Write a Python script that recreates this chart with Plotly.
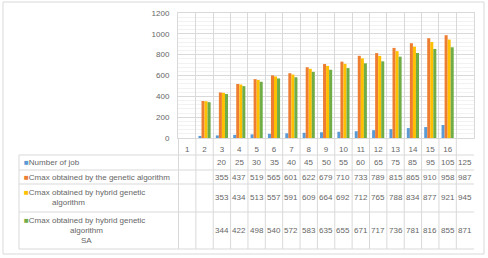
import plotly.graph_objects as go

categories = [str(i) for i in range(1, 17)]
number_of_job = [None, 20, 25, 30, 35, 40, 45, 50, 55, 60, 65, 75, 85, 95, 105, 125]
cmax_ga = [None, 355, 437, 519, 565, 601, 622, 679, 710, 733, 789, 815, 865, 910, 958, 987]
cmax_hga = [None, 353, 434, 513, 557, 591, 609, 664, 692, 712, 765, 788, 834, 877, 921, 945]
cmax_hga_sa = [None, 344, 422, 498, 540, 572, 583, 635, 655, 671, 717, 736, 781, 816, 855, 871]

series_names = ["Number of job", "Cmax obtained by the genetic algorithm",
                "Cmax obtained by hybrid genetic algorithm",
                "Cmax obtained by hybrid genetic algorithm SA"]
series_values = [number_of_job, cmax_ga, cmax_hga, cmax_hga_sa]
colors = ["#5B9BD5", "#ED7D31", "#FFC000", "#70AD47"]

W, H = 488, 258
L, R, T, B = 178, 474, 13, 138  # plot area in pixels
FONT = "Liberation Sans"
GRAY = "#666666"
LINE = "#d9d9d9"

def px(x):
    return (x - L) / (R - L)

def py(y):
    return (B - y) / (B - T)

fig = go.Figure()
for name, vals, c in zip(series_names, series_values, colors):
    fig.add_trace(go.Bar(x=categories, y=vals, name=name, marker_color=c,
                         marker_line_width=0))

shapes = []
annotations = []

# table vertical lines (category boundaries)
for i in range(len(categories) + 1):
    shapes.append(dict(type="line", xref="x", yref="paper", x0=i - 0.5, x1=i - 0.5,
                       y0=py(138), y1=py(249), line=dict(color=LINE, width=1)))
# left border of label column
shapes.append(dict(type="line", xref="paper", yref="paper", x0=px(19), x1=px(19),
                   y0=py(155), y1=py(249), line=dict(color=LINE, width=1)))
# horizontal table lines
for yy in [155, 170, 184, 212, 249]:
    shapes.append(dict(type="line", xref="paper", yref="paper", x0=px(19), x1=1,
                       y0=py(yy), y1=py(yy), line=dict(color=LINE, width=1)))
# outer chart border
shapes.append(dict(type="rect", xref="paper", yref="paper", x0=px(3), x1=px(484),
                   y0=py(2), y1=py(254), line=dict(color="#d9d9d9", width=1)))

row_centers = [162.5, 177, 197.5, 230]
fs = 8
for vals, yc in zip(series_values, row_centers):
    for cat, v in zip(categories, vals):
        if v is None:
            continue
        annotations.append(dict(xref="x", yref="paper", x=cat, y=py(yc), text=str(v),
                                showarrow=False, xanchor="center", yanchor="middle",
                                font=dict(family=FONT, size=fs, color=GRAY)))

def sq(c):
    return f'<span style="color:{c};font-size:8px">■</span>'

label_lines = [
    (f"{sq(colors[0])}Number of job", 22, 162.5, "left"),
    (f"{sq(colors[1])}Cmax obtained by the genetic algorithm", 22, 177, "left"),
    (f"{sq(colors[2])}Cmax obtained by hybrid genetic", 22, 192, "left"),
    ("algorithm", 68.5, 202.5, "center"),
    (f"{sq(colors[3])}Cmax obtained by hybrid genetic", 22, 220, "left"),
    ("algorithm", 86, 230.5, "center"),
    ("SA", 86, 240.5, "center"),
]
for text, xx, yy, anc in label_lines:
    annotations.append(dict(xref="paper", yref="paper", x=px(xx), y=py(yy), text=text,
                            showarrow=False, xanchor=anc, yanchor="middle",
                            font=dict(family=FONT, size=fs, color=GRAY)))

fig.update_layout(
    width=W, height=H, autosize=False,
    margin=dict(l=L, r=W - R, t=T, b=H - B, pad=0),
    paper_bgcolor="white", plot_bgcolor="white",
    barmode="group", bargap=0.3, bargroupgap=0.0,
    showlegend=False,
    font=dict(family=FONT, size=8, color=GRAY),
    xaxis=dict(type="category", tickson="boundaries", showgrid=True, gridcolor=LINE,
               gridwidth=1, ticks="", showline=True, linecolor=LINE, mirror=True,
               tickangle=0, automargin=False,
               tickfont=dict(family=FONT, size=8, color=GRAY), ticklabelstandoff=3),
    yaxis=dict(range=[0, 1200], dtick=200, showgrid=True, gridcolor=LINE, gridwidth=1,
               zeroline=False, showline=True, linecolor=LINE, mirror=True, ticks="",
               automargin=False,
               tickfont=dict(family=FONT, size=8, color=GRAY), ticklabelstandoff=6,
               minor=dict(dtick=40, showgrid=True, gridcolor="#f2f2f2", gridwidth=1)),
    shapes=shapes, annotations=annotations,
)

fig.write_html("out.html")
